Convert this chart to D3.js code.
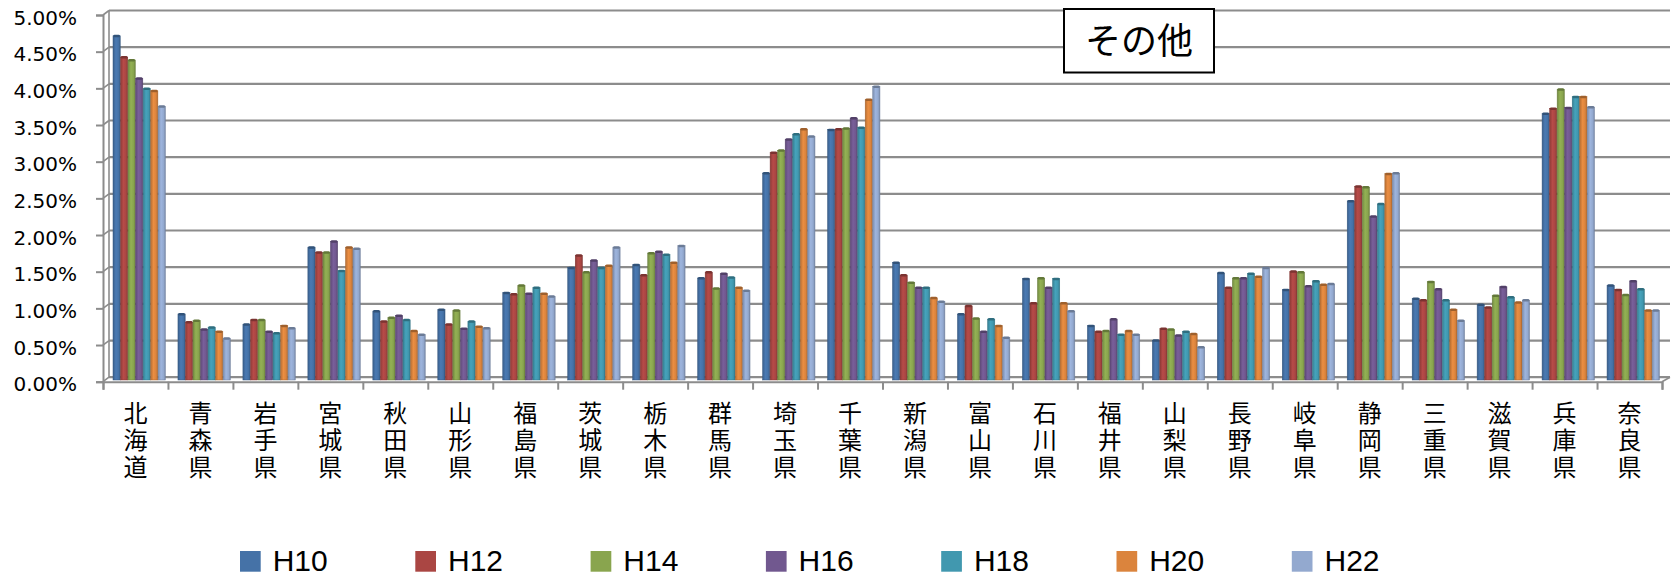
<!DOCTYPE html>
<html><head><meta charset="utf-8">
<script src="https://cdn.jsdelivr.net/npm/d3@7"></script>
<style>body{margin:0;background:#fff}svg{display:block}</style>
</head><body><svg id="c" width="1676" height="577"></svg>
<script>
const categories = ["北海道","青森県","岩手県","宮城県","秋田県","山形県","福島県","茨城県","栃木県","群馬県","埼玉県","千葉県","新潟県","富山県","石川県","福井県","山梨県","長野県","岐阜県","静岡県","三重県","滋賀県","兵庫県","奈良県"];
const seriesNames = ["H10","H12","H14","H16","H18","H20","H22"];
const H10 = [4.69,0.90,0.76,1.81,0.94,0.96,1.19,1.53,1.57,1.39,2.82,3.41,1.60,0.90,1.38,0.74,0.54,1.46,1.23,2.44,1.11,1.03,3.63,1.29];
const H12 = [4.40,0.79,0.82,1.74,0.80,0.76,1.17,1.70,1.43,1.47,3.10,3.42,1.43,1.01,1.05,0.66,0.70,1.26,1.48,2.64,1.09,0.99,3.70,1.23];
const H14 = [4.36,0.81,0.82,1.74,0.85,0.95,1.29,1.47,1.73,1.25,3.13,3.43,1.33,0.84,1.39,0.67,0.69,1.39,1.47,2.63,1.34,1.15,3.96,1.16];
const H16 = [4.11,0.69,0.66,1.89,0.88,0.70,1.18,1.63,1.75,1.45,3.28,3.57,1.26,0.66,1.26,0.83,0.61,1.39,1.28,2.23,1.24,1.27,3.71,1.35];
const H18 = [3.97,0.72,0.64,1.49,0.82,0.80,1.26,1.53,1.71,1.40,3.35,3.44,1.26,0.83,1.38,0.62,0.66,1.45,1.35,2.40,1.09,1.13,3.86,1.24];
const H20 = [3.94,0.66,0.74,1.81,0.67,0.73,1.18,1.56,1.60,1.26,3.42,3.82,1.12,0.74,1.05,0.67,0.63,1.41,1.30,2.81,0.96,1.06,3.86,0.95];
const H22 = [3.73,0.57,0.71,1.79,0.62,0.71,1.14,1.81,1.83,1.22,3.32,4.00,1.07,0.58,0.94,0.62,0.45,1.53,1.31,2.82,0.81,1.09,3.72,0.95];
const seriesValues = [H10,H12,H14,H16,H18,H20,H22];
const yTickValues = [0,0.5,1,1.5,2,2.5,3,3.5,4,4.5,5];
const titleText = "その他";
const colors = ["#4572A7","#AA4643","#89A54E","#71588F","#4198AF","#DB843D","#93A9CF"];

const svg = d3.select("#c");
svg.append("rect").attr("width",1676).attr("height",577).attr("fill","#fff");

const axisX = 103, rightX = 1662, depthX = 6, depthY = -4.5;
const yFront = d3.scaleLinear().domain([0,5]).range([381.7,15]);
const yBar = d3.scaleLinear().domain([0,5]).range([380,13]);
const x0 = d3.scaleBand().domain(categories).range([axisX,rightX]).padding(0);
const x1 = d3.scaleBand().domain(seriesNames).range([10,62.7]).padding(0);
const xIdx = d3.scaleLinear().domain([0,categories.length]).range([axisX,rightX]);

const gridCol = "#8c8c8c";
const grid = svg.append("g");
grid.selectAll("line.g").data(yTickValues).join("line")
  .attr("x1",axisX+depthX).attr("x2",rightX+depthX+2)
  .attr("y1",d=>yFront(d)+depthY).attr("y2",d=>yFront(d)+depthY)
  .attr("stroke",gridCol).attr("stroke-width",2.2);
grid.selectAll("line.s").data(yTickValues).join("line")
  .attr("x1",axisX).attr("x2",axisX+depthX)
  .attr("y1",d=>yFront(d)).attr("y2",d=>yFront(d)+depthY)
  .attr("stroke",gridCol).attr("stroke-width",1.6);
grid.append("line").attr("x1",axisX+depthX).attr("x2",axisX+depthX)
  .attr("y1",yFront(5)+depthY).attr("y2",yFront(0)+depthY)
  .attr("stroke",gridCol).attr("stroke-width",1.6);
grid.append("line").attr("x1",rightX).attr("x2",rightX+depthX+2)
  .attr("y1",yFront(0)).attr("y2",yFront(0)+depthY)
  .attr("stroke",gridCol).attr("stroke-width",1.6);

const defs = svg.append("defs");
colors.forEach((c,i)=>{
  const g = defs.append("linearGradient").attr("id","gr"+i).attr("x1","0").attr("x2","1").attr("y1","0").attr("y2","0");
  const base = d3.color(c);
  g.append("stop").attr("offset","0").attr("stop-color",base.darker(0.5));
  g.append("stop").attr("offset","0.4").attr("stop-color",base.brighter(0.2));
  g.append("stop").attr("offset","0.75").attr("stop-color",base);
  g.append("stop").attr("offset","1").attr("stop-color",base.darker(0.6));
});

const bars = svg.append("g");
seriesNames.forEach((s,si)=>{
  const vals = seriesValues[si];
  const g = bars.append("g");
  g.selectAll("rect.b").data(categories).join("rect")
    .attr("x",(d)=>x0(d)+x1(s))
    .attr("y",(d,i)=>yBar(vals[i]))
    .attr("width",x1.bandwidth()-0.3)
    .attr("height",(d,i)=>yBar(0)-yBar(vals[i]))
    .attr("fill","url(#gr"+si+")")
    .attr("stroke",d3.color(colors[si]).darker(0.8)).attr("stroke-width",0.5);
  g.selectAll("rect.t").data(categories).join("rect")
    .attr("x",(d)=>x0(d)+x1(s)+0.3)
    .attr("y",(d,i)=>yBar(vals[i])-1)
    .attr("width",x1.bandwidth()-0.9)
    .attr("height",2.5).attr("rx",1.2)
    .attr("fill",d3.color(colors[si]).darker(0.9));
});

const yAxis = d3.axisLeft(yFront).tickValues(yTickValues).tickSize(7).tickPadding(19)
  .tickFormat(d=>d.toFixed(2)+"%");
const ya = svg.append("g").attr("transform",`translate(${axisX},0)`).call(yAxis);
ya.select(".domain").attr("stroke",gridCol).attr("stroke-width",2);
ya.selectAll(".tick line").attr("stroke",gridCol).attr("stroke-width",2);
ya.selectAll(".tick text").attr("font-family","'DejaVu Sans', sans-serif").attr("font-size",20)
  .attr("fill","#000").attr("dy","0.45em");

const xAxis = d3.axisBottom(xIdx).tickValues(d3.range(categories.length+1)).tickSize(8).tickFormat("");
const xa = svg.append("g").attr("transform",`translate(0,${yFront(0)})`).call(xAxis);
xa.select(".domain").attr("stroke",gridCol).attr("stroke-width",2);
xa.selectAll(".tick line").attr("stroke",gridCol).attr("stroke-width",2);

const lab = svg.append("g").attr("font-family","'Noto Sans CJK JP', sans-serif").attr("font-size",24).attr("fill","#000");
categories.forEach(c=>{
  const t = lab.append("text").attr("text-anchor","middle");
  Array.from(c).forEach((ch,k)=>{
    t.append("tspan").attr("x",x0(c)+x0.bandwidth()/2).attr("y",421.5+k*27).text(ch);
  });
});

svg.append("rect").attr("x",1064).attr("y",9).attr("width",150).attr("height",63.5)
  .attr("fill","#fff").attr("stroke","#000").attr("stroke-width",2);
svg.append("text").attr("x",1139).attr("y",54).attr("text-anchor","middle")
  .attr("font-family","'Noto Sans CJK JP', sans-serif").attr("font-size",36).attr("fill","#000").text(titleText);

const leg = svg.append("g");
const legX = d3.scaleLinear().domain([0,1]).range([240,415.3]);
seriesNames.forEach((s,i)=>{
  leg.append("rect").attr("x",legX(i)).attr("y",551).attr("width",20.7).attr("height",20.7).attr("fill",colors[i]);
  leg.append("text").attr("x",legX(i)+32.7).attr("y",571)
    .attr("font-family","'Liberation Sans', Arial, sans-serif").attr("font-size",30).attr("fill","#000").text(s);
});
</script>
</body></html>
